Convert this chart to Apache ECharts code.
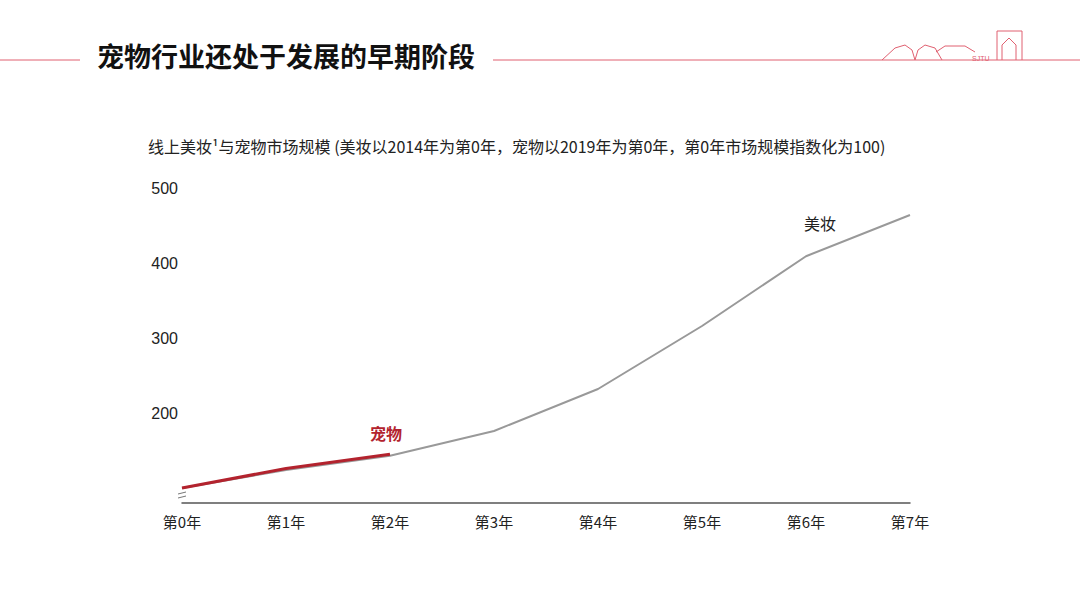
<!DOCTYPE html>
<html>
<head>
<meta charset="utf-8">
<script src="https://cdn.jsdelivr.net/npm/echarts@6/dist/echarts.min.js"></script>
<style>html,body{margin:0;padding:0;background:#fff}#main{width:1080px;height:607px}</style>
</head>
<body>
<div id="main"></div>
<script>
var chartDom = document.getElementById('main');
var myChart = echarts.init(chartDom, null, { renderer: 'svg' });

const years = ['第0年', '第1年', '第2年', '第3年', '第4年', '第5年', '第6年', '第7年'];
const beauty = [100, 124, 143, 176, 232, 316, 409, 464];
const pet = [100, 126, 145];
const yTicks = [200, 300, 400, 500];

const red = '#e06070';
const font = '"Noto Sans CJK SC", sans-serif';

const option = {
    animation: false,
    textStyle: { fontFamily: font },
    grid: { left: 182, right: 170, top: 188, bottom: 104 },
    xAxis: {
        type: 'category',
        boundaryGap: false,
        data: years,
        axisLine: { lineStyle: { color: '#555', width: 1.5 } },
        axisTick: { show: false },
        axisLabel: { color: '#222', fontSize: 15, margin: 11 }
    },
    yAxis: {
        type: 'value',
        min: 80,
        max: 500,
        splitLine: { show: false },
        axisLine: { show: false },
        axisTick: { show: false },
        axisLabel: { customValues: yTicks, color: '#222', fontSize: 16, margin: 4, fontFamily: 'Liberation Sans' }
    },
    series: [
        {
            name: '美妆',
            type: 'line',
            data: beauty,
            symbol: 'none',
            lineStyle: { color: '#999', width: 2 },
            z: 1
        },
        {
            name: '宠物',
            type: 'line',
            data: pet,
            symbol: 'none',
            lineStyle: { color: '#b3232e', width: 3 },
            z: 2
        }
    ],
    graphic: [
        { type: 'text', left: 97, top: 42, style: { text: '宠物行业还处于发展的早期阶段', font: 'bold 27px ' + font, fill: '#111' } },
        { type: 'line', shape: { x1: 0, y1: 60, x2: 80, y2: 60 }, style: { stroke: red, lineWidth: 1 } },
        { type: 'line', shape: { x1: 493, y1: 60, x2: 1080, y2: 60 }, style: { stroke: red, lineWidth: 1 } },
        { type: 'polyline', shape: { points: [[882, 60], [895, 48], [905, 45], [912, 50], [915, 60], [918, 50], [925, 45], [935, 48], [942, 60]] }, style: { stroke: red, fill: 'none', lineWidth: 1 } },
        { type: 'polyline', shape: { points: [[936, 52], [945, 46], [965, 46], [975, 52]] }, style: { stroke: red, fill: 'none', lineWidth: 1 } },
        { type: 'text', left: 972, top: 55, style: { text: 'SJTU', font: '7px sans-serif', fill: red } },
        { type: 'polyline', shape: { points: [[997, 60], [997, 31], [1022, 31], [1022, 60]] }, style: { stroke: red, fill: 'none', lineWidth: 1 } },
        { type: 'polyline', shape: { points: [[1002, 60], [1002, 45], [1009, 38], [1016, 45], [1016, 60]] }, style: { stroke: red, fill: 'none', lineWidth: 1 } },
        { type: 'text', left: 148, top: 138, style: { text: '线上美妆¹与宠物市场规模 (美妆以2014年为第0年，宠物以2019年为第0年，第0年市场规模指数化为100)', font: '16px ' + font, fill: '#222' } },
        { type: 'text', left: 804, top: 215, style: { text: '美妆', font: '16px ' + font, fill: '#222' } },
        { type: 'text', left: 370, top: 425, style: { text: '宠物', font: 'bold 16px ' + font, fill: '#b3232e' } },
        { type: 'line', shape: { x1: 178, y1: 494, x2: 186, y2: 492 }, style: { stroke: '#777', lineWidth: 1 } },
        { type: 'line', shape: { x1: 178, y1: 498, x2: 186, y2: 496 }, style: { stroke: '#777', lineWidth: 1 } }
    ]
};
option && myChart.setOption(option);
</script>
</body>
</html>
